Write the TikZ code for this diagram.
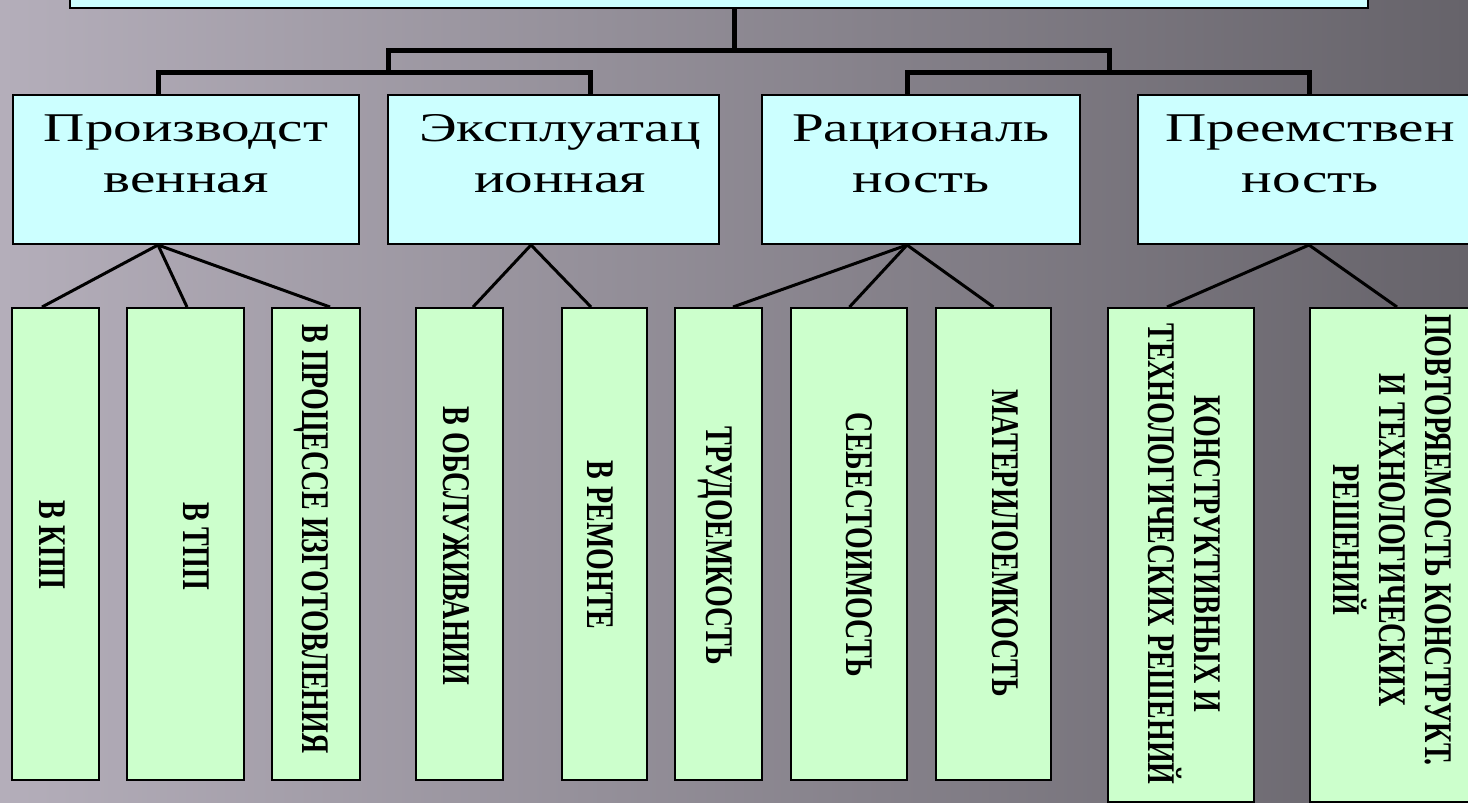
\documentclass[tikz,border=0pt]{standalone}
\usepackage{fontspec}
\setmainfont{Liberation Serif}

\definecolor{bgleft}{RGB}{180,174,186}
\definecolor{bgmid}{RGB}{138,134,143}
\definecolor{bgright}{RGB}{102,99,106}
\definecolor{headfill}{RGB}{204,255,255}
\definecolor{leaffill}{RGB}{204,255,204}

\tikzset{
  headbox/.style={draw=black, line width=1pt, fill=headfill, inner sep=0pt, minimum height=74.5pt},
  leafbox/.style={draw=black, line width=1pt, fill=leaffill, inner sep=0pt, minimum height=236pt},
  headtext/.style={font=\fontsize{20.4}{25.5}\selectfont, align=center, inner sep=0pt, xscale=1.4},
  leaftext/.style={font=\bfseries\fontsize{14}{16.4}\selectfont, align=center, inner sep=0pt, rotate=-90, yscale=1.4},
  trunk/.style={line width=2.5pt},
  leg/.style={line width=1.5pt}
}

\begin{document}
\begin{tikzpicture}[x=0.5pt,y=-0.5pt]
    \useasboundingbox (0,0) rectangle (1468,803);
    \fill[left color=bgleft, middle color=bgmid, right color=bgright] (0,0) rectangle (1468,803);

    % top box, cut off by the page
    \node[headbox, minimum width=649pt, minimum height=19pt] (top) at (719,-11) {};

    % second row
    \node[headbox, minimum width=173pt] (p1) at (186,169.5) {};
    \node[headbox, minimum width=165.5pt] (p2) at (553.5,169.5) {};
    \node[headbox, minimum width=159pt] (p3) at (921,169.5) {};
    \node[headbox, minimum width=172pt] (p4) at (1310,169.5) {};
    \node[headtext] (t1) at (186,154) {Производст\\венная};
    \node[headtext] (t2) at (560,154) {Эксплуатац\\ионная};
    \node[headtext] (t3) at (921,154) {Рациональ\\ность};
    \node[headtext] (t4) at (1310,154) {Преемствен\\ность};

    % third row
    \node[leafbox, minimum width=43.5pt] (g1) at (55.5,544) {};
    \node[leafbox, minimum width=58.5pt] (g2) at (185.5,544) {};
    \node[leafbox, minimum width=44pt] (g3) at (316,544) {};
    \node[leafbox, minimum width=43.5pt] (g4) at (459.5,544) {};
    \node[leafbox, minimum width=42.5pt] (g5) at (604.5,544) {};
    \node[leafbox, minimum width=43.5pt] (g6) at (718.5,544) {};
    \node[leafbox, minimum width=58pt] (g7) at (849,544) {};
    \node[leafbox, minimum width=57.5pt] (g8) at (993.5,544) {};
    \node[leafbox, minimum width=73pt, minimum height=247pt] (g9) at (1181,555) {};
    \node[leafbox, minimum width=80pt, minimum height=247pt] (g10) at (1390,555) {};

    \node[leaftext] (v1) at (52.5,545) {В КПП};
    \node[leaftext] (v2) at (196.5,546) {В ТПП};
    \node[leaftext] (v3) at (311.5,539) {В ПРОЦЕССЕ ИЗГОТОВЛЕНИЯ};
    \node[leaftext] (v4) at (456.5,546) {В ОБСЛУЖИВАНИИ};
    \node[leaftext] (v5) at (600,545) {В РЕМОНТЕ};
    \node[leaftext] (v6) at (715.5,546) {ТРУДОЕМКОСТЬ};
    \node[leaftext] (v7) at (859.5,545) {СЕБЕСТОИМОСТЬ};
    \node[leaftext] (v8) at (1005,543) {МАТЕРИЛОЕМКОСТЬ};
    \node[leaftext] (v9) at (1184,554) {КОНСТРУКТИВНЫХ И\\ТЕХНОЛОГИЧЕСКИХ РЕШЕНИЙ};
    \node[leaftext] (v10) at (1392.5,540) {ПОВТОРЯЕМОСТЬ КОНСТРУКТ.\\И ТЕХНОЛОГИЧЕСКИХ\\РЕШЕНИЙ};

    % tree from the top box
    \coordinate (j0) at (734,50);
    \coordinate (jl) at (388,72);
    \coordinate (jr) at (1109,72);
    \draw[trunk] ([xshift=7.5pt]top.south) -- (j0);
    \draw[trunk] (jl) |- (j0) -| (jr);
    \draw[trunk] ([xshift=-14pt]p1.north) |- (jl) -| ([xshift=18.25pt]p2.north);
    \draw[trunk] ([xshift=-7pt]p3.north) |- (jr) -| ([xshift=-0.5pt]p4.north);

    % legs down to the third row
    \foreach \up/\us/\dn/\ds in {p1/-14/g1/-6.75, p1/-14/g2/0.75, p1/-14/g3/7,
        p2/-11.25/g4/6.75, p2/-11.25/g5/-6.75,
        p3/-7/g6/7.25, p3/-7/g7/0.25, p3/-7/g8/0,
        p4/-0.5/g9/-7, p4/-0.5/g10/3.5}
        \draw[leg] ([xshift=\us pt]\up.south) -- ([xshift=\ds pt]\dn.north);
\end{tikzpicture}
\end{document}
